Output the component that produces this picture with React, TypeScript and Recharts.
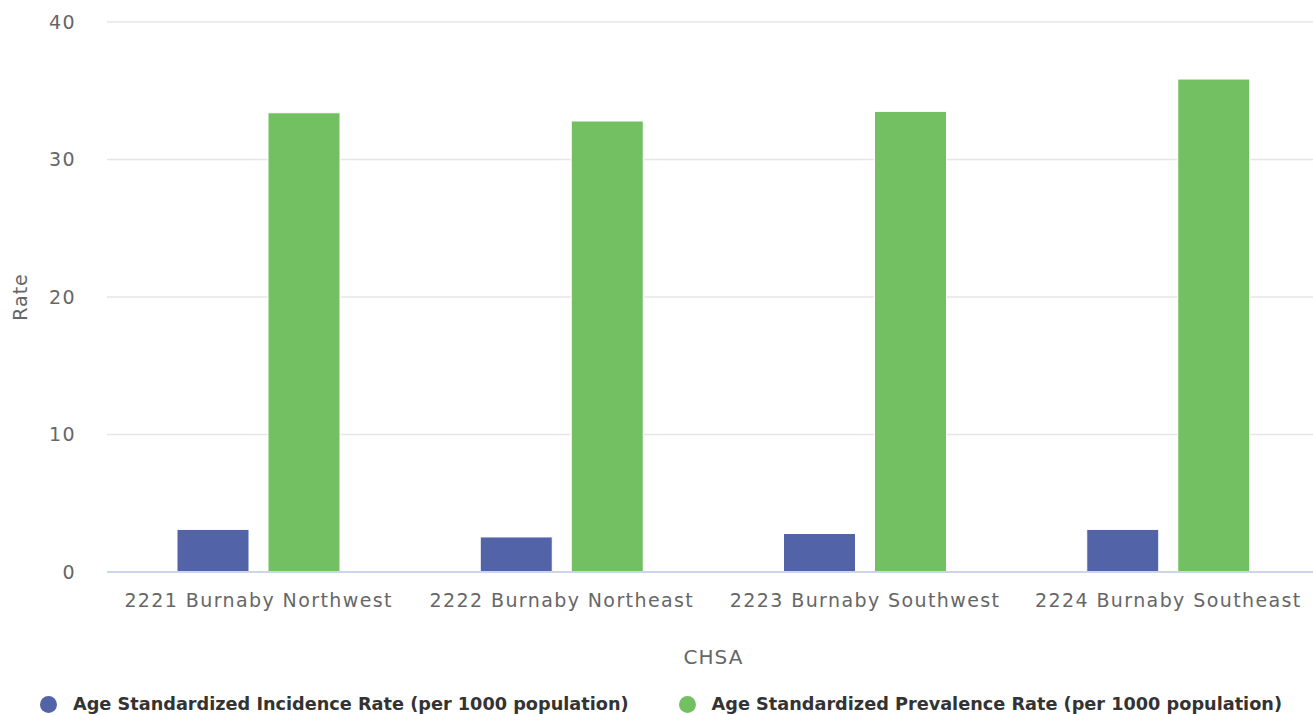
import { Bar, BarChart, CartesianGrid, Label, Legend, XAxis, YAxis } from "recharts";

const CATEGORIES = [
  "2221 Burnaby Northwest",
  "2222 Burnaby Northeast",
  "2223 Burnaby Southwest",
  "2224 Burnaby Southeast",
];
const INCIDENCE = [3.1, 2.55, 2.8, 3.1];
const PREVALENCE = [33.4, 32.8, 33.5, 35.85];
const Y_TICKS = [0, 10, 20, 30, 40];

const INCIDENCE_NAME = "Age Standardized Incidence Rate (per 1000 population)";
const PREVALENCE_NAME = "Age Standardized Prevalence Rate (per 1000 population)";

const BLUE = "#5363a7";
const GREEN = "#73c062";
const FONT = "'DejaVu Sans', sans-serif";

const rows = CATEGORIES.map((chsa, i) => ({
  chsa,
  incidence: INCIDENCE[i],
  prevalence: PREVALENCE[i],
}));

function LegendRow() {
  const items = [
    { name: INCIDENCE_NAME, color: BLUE },
    { name: PREVALENCE_NAME, color: GREEN },
  ];
  return (
    <div
      style={{
        display: "flex",
        alignItems: "center",
        paddingLeft: 40,
        marginTop: 3,
        fontFamily: FONT,
        whiteSpace: "nowrap",
      }}
    >
      {items.map((item) => (
        <div key={item.name} style={{ display: "flex", alignItems: "center", marginRight: 50, flexShrink: 0 }}>
          <span
            style={{
              width: 17,
              height: 17,
              borderRadius: "50%",
              background: item.color,
              display: "inline-block",
              marginRight: 16,
            }}
          />
          <span style={{ fontSize: 17.7, fontWeight: "bold", color: "#333" }}>{item.name}</span>
        </div>
      ))}
    </div>
  );
}

function RateLabel({ viewBox }: any) {
  const x = viewBox.x + 20;
  const y = viewBox.y + viewBox.height / 2;
  return (
    <text
      x={x}
      y={y}
      transform={`rotate(-90 ${x} ${y})`}
      textAnchor="middle"
      dominantBaseline="central"
      fill="#666"
      fontSize={19}
      fontFamily={FONT}
      letterSpacing={1}
    >
      Rate
    </text>
  );
}

export default function App() {
  return (
    <div style={{ position: "absolute", left: 0, top: 0, background: "#fff" }}>
      <BarChart
        width={1313}
        height={715}
        data={rows}
        margin={{ top: 22, right: -7, left: 0, bottom: 0 }}
        barSize={72}
        barGap={19}
      >
        <CartesianGrid vertical={false} stroke="#e6e6e6" strokeWidth={1.5} />
        <XAxis
          dataKey="chsa"
          height={119}
          tickLine={false}
          tickSize={0}
          tickMargin={22}
          axisLine={{ stroke: "#ccd6eb", strokeWidth: 2 }}
          tick={{ fill: "#666", fontSize: 19, fontFamily: FONT, letterSpacing: 1.4 }}
          interval={0}
        >
          <Label value="CHSA" position="insideBottom" offset={27} fill="#666" fontSize={20} fontFamily={FONT} letterSpacing={1} />
        </XAxis>
        <YAxis
          width={107}
          domain={[0, 40]}
          ticks={Y_TICKS}
          axisLine={false}
          tickLine={false}
          tickSize={0}
          tickMargin={31}
          tick={{ fill: "#666", fontSize: 19, fontFamily: FONT, letterSpacing: 1.4 }}
        >
          <Label content={<RateLabel />} />
        </YAxis>
        <Legend verticalAlign="bottom" height={24} content={<LegendRow />} />
        <Bar dataKey="incidence" name={INCIDENCE_NAME} fill={BLUE} stroke="#fff" strokeWidth={1} isAnimationActive={false} />
        <Bar dataKey="prevalence" name={PREVALENCE_NAME} fill={GREEN} stroke="#fff" strokeWidth={1} isAnimationActive={false} />
      </BarChart>
    </div>
  );
}
